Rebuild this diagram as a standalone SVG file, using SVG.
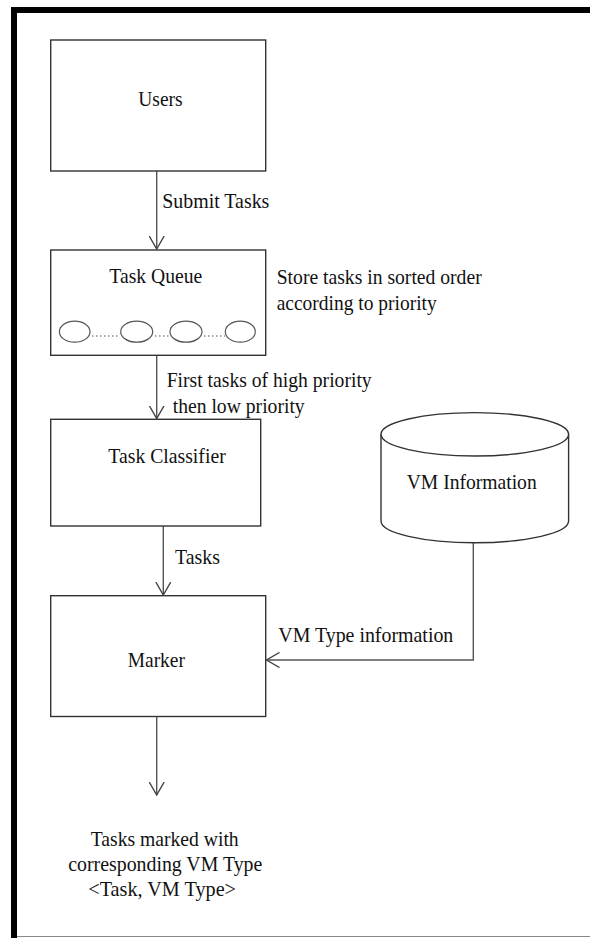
<svg xmlns="http://www.w3.org/2000/svg" width="590" height="938" viewBox="0 0 590 938">
<style>
  .box { fill: #fff; stroke: #333; stroke-width: 1.4; }
  .conn { fill: none; stroke: #555; stroke-width: 1.4; }
  .ell { fill: #fff; stroke: #555; stroke-width: 1.2; }
  .dots { fill: none; stroke: #555; stroke-width: 1.2; stroke-dasharray: 1.5 2.5; }
  text { font-family: "Liberation Serif", "Times New Roman", serif; font-size: 22px; fill: #111; }
</style>
<defs>
  <marker id="open" viewBox="0 0 14 16" refX="13" refY="8" markerWidth="14" markerHeight="16" markerUnits="userSpaceOnUse" orient="auto">
    <path d="M0,0.5 L13,8 L0,15.5" fill="none" stroke="#444" stroke-width="1.4"/>
  </marker>
</defs>
<rect x="0" y="0" width="590" height="938" fill="#fff"/>
<g id="frame">
  <rect x="11" y="7" width="579" height="6" fill="#000"/>
  <rect x="11" y="7" width="6" height="931" fill="#000"/>
  <line x1="17" y1="936.5" x2="590" y2="936.5" stroke="#888" stroke-width="1.2"/>
</g>
<g id="connectors">
  <line class="conn" x1="156.7" y1="171" x2="156.7" y2="249" marker-end="url(#open)"/>
  <line class="conn" x1="156.7" y1="355" x2="156.7" y2="418.5" marker-end="url(#open)"/>
  <line class="conn" x1="163.3" y1="526" x2="163.3" y2="595" marker-end="url(#open)"/>
  <polyline class="conn" points="473.3,542.7 473.3,660 266.5,660" marker-end="url(#open)"/>
  <line class="conn" x1="156.7" y1="716.5" x2="156.7" y2="795" marker-end="url(#open)"/>
  <text x="162.3" y="208" textLength="107" lengthAdjust="spacingAndGlyphs">Submit Tasks</text>
  <text x="166.7" y="386.7" textLength="205" lengthAdjust="spacingAndGlyphs">First tasks of high priority</text>
  <text x="172.7" y="412.7" textLength="132" lengthAdjust="spacingAndGlyphs">then low priority</text>
  <text x="175" y="564" textLength="45" lengthAdjust="spacingAndGlyphs">Tasks</text>
  <text x="278.3" y="641.7" textLength="175" lengthAdjust="spacingAndGlyphs">VM Type information</text>
</g>
<g id="users">
  <rect class="box" x="50.7" y="40" width="215" height="131"/>
  <text x="138.3" y="106" textLength="44.4" lengthAdjust="spacingAndGlyphs">Users</text>
</g>
<g id="task-queue">
  <rect class="box" x="50.7" y="250" width="215" height="105.3"/>
  <text x="109.3" y="283.3" textLength="93" lengthAdjust="spacingAndGlyphs">Task Queue</text>
  <ellipse class="ell" cx="74.7" cy="331.7" rx="15.3" ry="10.5"/>
  <ellipse class="ell" cx="136.7" cy="331.7" rx="16" ry="10.5"/>
  <ellipse class="ell" cx="186" cy="331.7" rx="16" ry="10.5"/>
  <ellipse class="ell" cx="240.3" cy="331.7" rx="15" ry="10.5"/>
  <line class="dots" x1="92" y1="336" x2="120" y2="336"/>
  <line class="dots" x1="155" y1="336" x2="170" y2="336"/>
  <line class="dots" x1="204" y1="336" x2="225" y2="336"/>
  <text x="276.7" y="284" textLength="205" lengthAdjust="spacingAndGlyphs">Store tasks in sorted order</text>
  <text x="276.7" y="310" textLength="160" lengthAdjust="spacingAndGlyphs">according to priority</text>
</g>
<g id="task-classifier">
  <rect class="box" x="50.7" y="419.3" width="210" height="106.7"/>
  <text x="108.3" y="462.7" textLength="117.4" lengthAdjust="spacingAndGlyphs">Task Classifier</text>
</g>
<g id="vm-information">
  <path class="box" d="M381,434.3 L381,521 A93.8,21.7 0 0 0 568.6,521 L568.6,434.3"/>
  <ellipse class="box" cx="474.8" cy="434.3" rx="93.8" ry="21.7"/>
  <text x="406.7" y="489" textLength="130" lengthAdjust="spacingAndGlyphs">VM Information</text>
</g>
<g id="marker">
  <rect class="box" x="50.7" y="595.7" width="215" height="120.8"/>
  <text x="127.7" y="667.3" textLength="57.3" lengthAdjust="spacingAndGlyphs">Marker</text>
</g>
<g id="output">
  <text x="90.7" y="845.7" textLength="148" lengthAdjust="spacingAndGlyphs">Tasks marked with</text>
  <text x="68.3" y="870.7" textLength="194" lengthAdjust="spacingAndGlyphs">corresponding VM Type</text>
  <text x="88.3" y="896" textLength="147.7" lengthAdjust="spacingAndGlyphs">&lt;Task, VM Type&gt;</text>
</g>
</svg>
